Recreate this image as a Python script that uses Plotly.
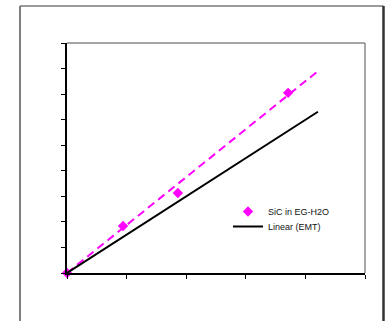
import plotly.graph_objects as go

# Data
sic_x = [0.0, 0.94, 1.86, 3.71]
sic_y = [0.0, 1.84, 3.13, 7.05]
trend_x = [0.0, 4.20]
trend_y = [0.0, 7.88]
emt_x = [0.0, 4.21]
emt_y = [0.0, 6.31]

W, H = 389, 321
px0, px1 = 67, 365   # plot area left/right in pixels
py0, py1 = 43, 273   # plot area top/bottom in pixels

def xp(v):
    return v / W

def yp(v):
    return (H - v) / H

fig = go.Figure()
fig.add_trace(go.Scatter(
    x=trend_x, y=trend_y, mode="lines", showlegend=False,
    line=dict(color="#FF00FF", width=2, dash="8px,5px"), cliponaxis=False,
))
fig.add_trace(go.Scatter(
    x=sic_x, y=sic_y, mode="markers", name="SiC in EG-H2O", legend="legend",
    marker=dict(symbol="diamond", size=8, color="#FF00FF"), cliponaxis=False,
))
fig.add_trace(go.Scatter(
    x=emt_x, y=emt_y, mode="lines", name="Linear (EMT)", legend="legend2",
    line=dict(color="black", width=2), cliponaxis=False,
))

axis_common = dict(
    showgrid=False, zeroline=False, showticklabels=False,
    ticks="outside", ticklen=4, tickcolor="black", tickwidth=1,
    showline=True, linecolor="black", linewidth=1.5,
)
legend_common = dict(xanchor="left", yanchor="top", bgcolor="rgba(0,0,0,0)",
                     font=dict(size=9, color="#111111"), itemwidth=30)
fig.update_layout(
    width=W, height=H,
    margin=dict(l=0, r=0, t=0, b=0),
    paper_bgcolor="white", plot_bgcolor="white",
    font=dict(family="Liberation Sans, Arial, sans-serif", size=9, color="black"),
    xaxis=dict(range=[0, 5], dtick=1, domain=[xp(px0), xp(px1)], **axis_common),
    yaxis=dict(range=[0, 9], dtick=1, domain=[yp(py1), yp(py0)], **axis_common),
    legend=dict(x=xp(228), y=yp(197), **legend_common),
    legend2=dict(x=xp(228), y=yp(212), **legend_common),
    shapes=[
        # plot area top and right (gray)
        dict(type="line", xref="paper", yref="paper", x0=xp(px0), x1=xp(px1),
             y0=yp(py0), y1=yp(py0), line=dict(color="#888888", width=1.5)),
        dict(type="line", xref="paper", yref="paper", x0=xp(px1), x1=xp(px1),
             y0=yp(py0), y1=yp(py1), line=dict(color="#888888", width=1.5)),
        # outer border
        dict(type="line", xref="paper", yref="paper", x0=xp(20), x1=xp(20),
             y0=yp(6), y1=yp(330), line=dict(color="#555555", width=1.5)),
        dict(type="line", xref="paper", yref="paper", x0=xp(20), x1=xp(383.5),
             y0=yp(6), y1=yp(6), line=dict(color="#777777", width=1.5)),
        dict(type="line", xref="paper", yref="paper", x0=xp(383.5), x1=xp(383.5),
             y0=yp(6), y1=yp(330), line=dict(color="#333333", width=2.5)),
    ],
)

fig.write_html("out.html", config={"displayModeBar": False},
               post_script="document.body.style.margin='0px';document.body.style.overflow='hidden';")
